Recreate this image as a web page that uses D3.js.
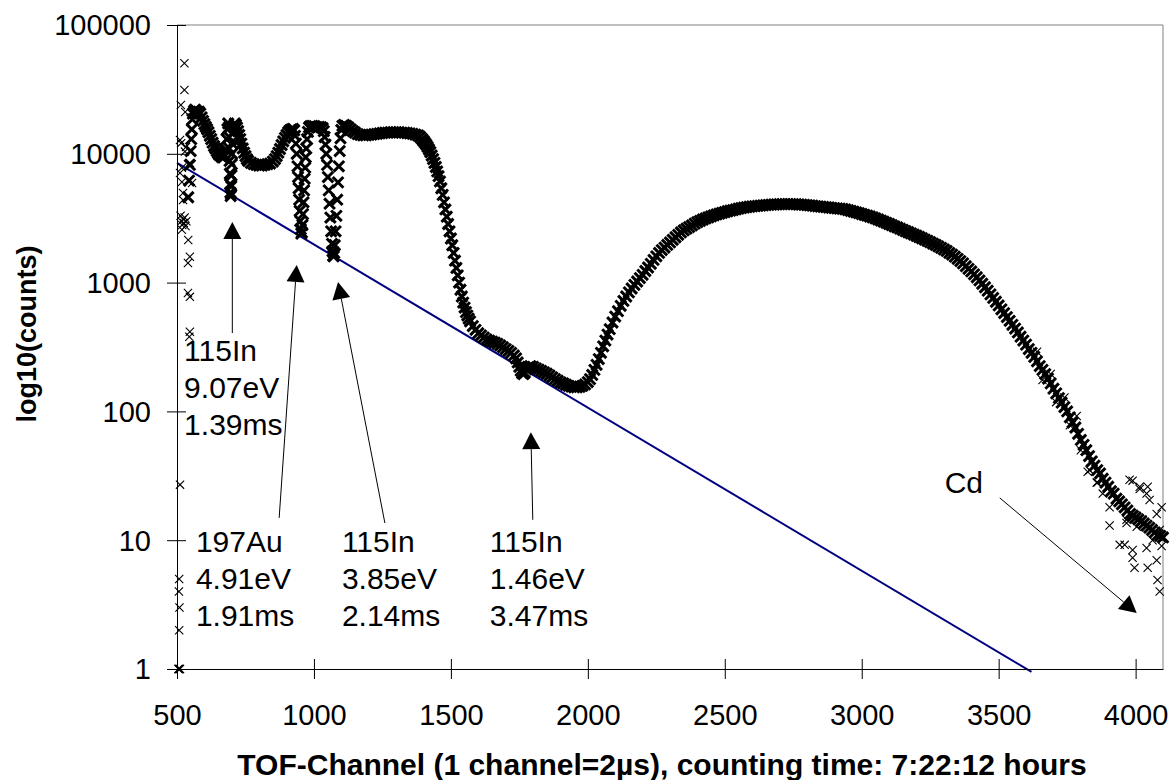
<!DOCTYPE html>
<html>
<head>
<meta charset="utf-8">
<script src="https://cdn.jsdelivr.net/npm/d3@7"></script>
<style>
  body { margin: 0; background: #fff; }
  text { font-family: "Liberation Sans", Arial, sans-serif; }
</style>
</head>
<body>
<svg id="chart" width="1171" height="780"></svg>
<script>
// tick labels
const xTicks = [500, 1000, 1500, 2000, 2500, 3000, 3500, 4000];
const yTicks = [1, 10, 100, 1000, 10000, 100000];

// scattered first channels [channel, counts]
const sparsePoints = [
  [505, 1], [507, 1], [509, 1], [511, 1], [508, 2], [509, 3], [507, 4], [508, 5], [511, 27],
  [527, 50400], [527, 31300], [514, 23900], [530, 21100], [511, 12800], [515, 12100], [533, 11300],
  [529, 10400], [547, 8500], [518, 7800], [511, 7100], [518, 6050], [555, 5930], [522, 4960], [522, 4370],
  [513, 3300], [516, 3000], [519, 2800], [522, 3100], [525, 2900], [528, 3200], [531, 2750], [534, 3000],
  [518, 2570], [541, 2140], [547, 1590], [540, 1420], [540, 830], [547, 775], [547, 415], [545, 380]
];

// main TOF spectrum [channel, counts]
const spectrum = [
  [541,4600],[544,6200],[547,8200],[550,10500],[552,13000],[554,15500],[556,18500],[558,20500],
  [562,21500],[566,22000],[570,21500],[575,21000],[580,21200],[585,20500],[590,19200],[595,18000],
  [600,17000],[605,16200],[610,15500],[615,14700],[620,13800],[625,13000],[630,12200],[635,11500],
  [640,11000],[645,10500],[650,10100],[655,9800],[660,9600],[665,9400],[670,9400],[675,9700],
  [678,10800],[681,13000],[684,15500],[687,17200],[689,16000],[690,13500],[691,11000],[692,8800],
  [693,7000],[694,5800],[695,5000],[696,4700],[697,4900],[698,5600],[699,6800],[700,8300],
  [701,10000],[702,12000],[704,14500],[707,16500],[711,17200],[715,16800],[719,16000],[723,15000],
  [727,14000],[731,13000],[735,12000],[740,11000],[745,10200],[750,9600],[755,9100],[760,8800],
  [770,8500],[780,8300],[790,8200],[800,8100],[810,8100],[820,8200],[830,8300],[840,8400],
  [850,8700],[858,9100],[864,9600],[870,10200],[876,10900],[882,11700],[888,12500],[894,13300],
  [900,14000],[906,14700],[912,15200],[918,15500],[924,15600],[928,15200],[931,13800],[934,12000],
  [937,10000],[940,8000],[942,6600],[944,5400],[946,4400],[948,3600],[950,3000],[952,2600],
  [954,2400],[956,2450],[958,2800],[960,3400],[962,4200],[964,5200],[966,6400],[968,7800],
  [970,9400],[972,11000],[975,13000],[978,14800],[982,16000],[987,16400],[994,16500],[1002,16400],
  [1010,16100],[1018,16200],[1026,16100],[1032,15800],[1036,15000],[1039,13500],[1042,11800],[1045,10000],
  [1048,8200],[1051,6600],[1054,5200],[1057,4100],[1060,3200],[1063,2500],[1066,2000],[1068,1750],
  [1070,1620],[1072,1600],[1074,1700],[1076,1950],[1079,2500],[1082,3300],[1085,4400],[1088,6000],
  [1091,8000],[1094,10500],[1097,13200],[1100,15300],[1104,16500],[1110,16800],[1118,16500],[1126,16000],
  [1134,15500],[1142,15000],[1150,14600],[1160,14200],[1170,14000],[1180,13900],[1190,13900],[1200,14000],
  [1210,14100],[1220,14200],[1230,14300],[1240,14400],[1250,14500],[1260,14600],[1270,14600],[1280,14700],
  [1290,14700],[1300,14700],[1310,14700],[1320,14600],[1330,14600],[1340,14500],[1350,14400],[1360,14300],
  [1370,14100],[1380,13900],[1388,13500],[1395,13000],[1400,12600],[1405,12200],[1410,11800],[1415,11300],
  [1420,10800],[1425,10300],[1430,9700],[1435,9100],[1440,8500],[1445,7900],[1450,7300],[1455,6700],
  [1460,6100],[1465,5400],[1470,4800],[1475,4200],[1480,3700],[1485,3250],[1490,2850],[1495,2500],
  [1500,2200],[1505,1950],[1510,1700],[1515,1480],[1520,1300],[1525,1140],[1530,1000],[1535,880],
  [1540,780],[1545,700],[1550,640],[1555,590],[1560,555],[1565,525],[1570,500],[1580,460],
  [1590,430],[1600,405],[1610,390],[1620,375],[1630,362],[1640,355],[1650,348],[1660,342],
  [1670,335],[1680,325],[1690,315],[1700,305],[1710,295],[1720,285],[1730,272],[1738,258],
  [1744,240],[1750,222],[1755,207],[1760,198],[1765,195],[1770,200],[1776,212],[1782,220],
  [1790,225],[1800,222],[1810,216],[1820,211],[1830,206],[1840,201],[1850,196],[1860,190],
  [1870,184],[1880,178],[1890,173],[1900,168],[1910,165],[1920,161],[1930,158],[1940,156],
  [1950,154],[1960,154],[1970,155],[1980,158],[1990,162],[2000,169],[2008,178],[2016,192],
  [2024,210],[2032,230],[2040,255],[2048,285],[2056,320],[2064,355],[2072,395],[2080,435],
  [2090,490],[2100,545],[2110,600],[2120,660],[2130,720],[2140,780],[2150,840],[2160,900],
  [2170,960],[2180,1020],[2190,1085],[2200,1150],[2210,1230],[2220,1310],[2230,1400],[2240,1500],
  [2250,1600],[2260,1700],[2270,1790],[2280,1870],[2290,1960],[2300,2050],[2310,2150],[2320,2250],
  [2330,2350],[2340,2450],[2350,2540],[2360,2620],[2370,2700],[2380,2780],[2390,2870],[2400,2950],
  [2410,3020],[2420,3090],[2430,3150],[2440,3210],[2450,3270],[2460,3330],[2470,3380],[2480,3430],
  [2490,3480],[2500,3530],[2510,3580],[2520,3620],[2530,3660],[2540,3700],[2550,3750],[2560,3790],
  [2570,3820],[2580,3850],[2590,3880],[2600,3900],[2610,3920],[2620,3940],[2630,3960],[2640,3980],
  [2650,4000],[2660,4020],[2670,4030],[2680,4040],[2690,4050],[2700,4060],[2710,4070],[2720,4070],
  [2730,4070],[2740,4070],[2750,4060],[2760,4060],[2770,4040],[2780,4030],[2790,4020],[2800,4000],
  [2810,3980],[2820,3960],[2830,3930],[2840,3910],[2850,3890],[2860,3870],[2870,3850],[2880,3830],
  [2890,3810],[2900,3790],[2910,3770],[2920,3750],[2930,3730],[2940,3700],[2950,3650],[2960,3600],
  [2970,3560],[2980,3510],[2990,3460],[3000,3410],[3010,3360],[3020,3310],[3030,3260],[3040,3210],
  [3050,3150],[3060,3090],[3070,3030],[3080,2970],[3090,2910],[3100,2850],[3110,2790],[3120,2730],
  [3130,2680],[3140,2620],[3150,2570],[3160,2510],[3170,2460],[3180,2410],[3190,2360],[3200,2310],
  [3210,2260],[3220,2210],[3230,2160],[3240,2110],[3250,2060],[3260,2010],[3270,1960],[3280,1910],
  [3290,1860],[3300,1810],[3310,1760],[3320,1700],[3330,1650],[3340,1590],[3350,1530],[3360,1470],
  [3370,1410],[3380,1340],[3390,1280],[3400,1220],[3410,1160],[3420,1100],[3430,1040],[3440,980],
  [3450,920],[3460,865],[3470,810],[3480,760],[3490,710],[3500,665],[3510,620],[3520,580],
  [3530,540],[3540,505],[3550,470],[3560,440],[3570,410],[3580,380],[3590,355],[3600,330],
  [3610,305],[3620,285],[3630,265],[3640,245],[3650,225],[3660,210],[3670,195],[3680,180],
  [3690,165],[3700,150],[3710,138],[3720,127],[3730,117],[3740,108],[3750,100],[3760,90],
  [3770,82],[3780,75],[3790,67],[3800,60],[3810,55],[3820,50],[3830,45],[3840,41],
  [3850,38],[3860,35],[3870,33],[3880,30],[3890,28],[3900,26],[3910,24],[3920,23],
  [3930,21],[3940,20],[3950,19],[3960,18],[3970,17],[3980,16],[3990,15.5],[4000,15],
  [4010,14.5],[4020,14],[4030,13.5],[4040,13],[4050,12.5],[4060,12],[4070,11.5],[4080,11],
  [4090,10.8],[4100,10.5]
];

// spread of the noisy tail [channel, counts]
const tailScatter = [
  [3640,290],[3660,175],[3690,195],[3710,118],[3740,128],[3760,78],[3785,92],[3800,50],
  [3825,34],[3832,35],[3858,28],[3861,28],[3880,23],[3905,18],[3905,13],[3942,20.5],[3942,9.2],
  [3960,9.2],[3967,14.4],[3967,13.6],[3978,29.5],[3989,8.4],[3989,29],[3996,6.1],[3989,7.3],
  [4004,12.7],[4015,25],[4015,26],[4026,14.4],[4040,23],[4040,8.7],[4044,26],[4044,6.1],
  [4051,20.5],[4062,10],[4077,16],[4077,7],[4080,4.9],[4088,4],[4088,12],[4095,9],[4095,18]
];

// exponential trend line end points [channel, counts]
const fitLine = [[500, 8500], [3620, 0.95]];

// resonance annotations: arrow tip, arrow tail and label anchor [channel, counts]
const annotations = [
  { lines: ["115In", "9.07eV", "1.39ms"], tip: [702, 2955], tail: [702, 406], label: [526, 246] },
  { lines: ["197Au", "4.91eV", "1.91ms"], tip: [937, 1370], tail: [873, 14.9], label: [569, 8.14] },
  { lines: ["115In", "3.85eV", "2.14ms"], tip: [1088, 1011], tail: [1259, 13.6], label: [1102, 8.14] },
  { lines: ["115In", "1.46eV", "3.47ms"], tip: [1792, 69], tail: [1799, 14.4], label: [1642, 8.14] },
  { lines: ["Cd"], tip: [4004, 2.72], tail: [3504, 21.3], label: [3303, 23.3] }
];

const width = 1171, height = 780;
const margin = { top: 25, right: 8, bottom: 111, left: 177 };
const svg = d3.select("#chart");

const x = d3.scaleLinear().domain([500, 4100]).range([margin.left, width - margin.right]);
const y = d3.scaleLog().domain([1, 100000]).range([height - margin.bottom, margin.top]);

// plot frame (top and right side)
svg.append("path")
    .attr("d", `M${x(500)},${y(100000)}H${x(4100)}V${y(1)}`)
    .attr("fill", "none")
    .attr("stroke", "#808080");

// trend line
svg.append("path")
    .datum(fitLine)
    .attr("d", d3.line().x(d => x(d[0])).y(d => y(d[1])))
    .attr("fill", "none")
    .attr("stroke", "#000080")
    .attr("stroke-width", 2);

// markers: the dense spectrum overlaps into a solid band
function drawMarkers(data, size, strokeWidth) {
    svg.append("g")
        .selectAll("path")
        .data(data)
        .join("path")
        .attr("transform", d => `translate(${x(d[0])},${y(d[1])})`)
        .attr("d", d3.symbol().type(d3.symbolTimes).size(size)())
        .attr("fill", "none")
        .attr("stroke", "#000")
        .attr("stroke-width", strokeWidth);
}
drawMarkers(sparsePoints, 46, 1.1);
drawMarkers(tailScatter, 46, 1.1);
drawMarkers(spectrum, 76, 3);

// axes
const xAxis = svg.append("g")
    .attr("transform", `translate(0,${y(1)})`)
    .call(d3.axisBottom(x).tickValues(xTicks).tickFormat(d3.format("d")).tickSize(10).tickSizeOuter(0));
xAxis.selectAll(".tick line").attr("y1", -10).attr("y2", 10);
xAxis.selectAll(".tick text").attr("y", 56).attr("dy", null);

const yAxis = svg.append("g")
    .attr("transform", `translate(${x(500)},0)`)
    .call(d3.axisLeft(y).tickValues(yTicks).tickFormat(d3.format("d")).tickSize(10).tickSizeOuter(0));
yAxis.selectAll(".tick line").attr("x1", 9).attr("x2", -10);
yAxis.selectAll(".tick text").attr("x", -26).attr("dy", "0.34em");

[xAxis, yAxis].forEach(a => {
    a.attr("font-family", null).attr("font-size", null);
    a.selectAll("text").style("font-size", "29px").attr("fill", "#000");
    a.selectAll("line, .domain").attr("stroke", "#000");
});

// annotations
const headLen = 17, headHalf = 9;
const notes = svg.append("g");
annotations.forEach(a => {
    const tx = x(a.tip[0]), ty = y(a.tip[1]);
    const sx = x(a.tail[0]), sy = y(a.tail[1]);
    const ang = Math.atan2(ty - sy, tx - sx);
    const bx = tx - headLen * Math.cos(ang), by = ty - headLen * Math.sin(ang);
    notes.append("line")
        .attr("x1", sx).attr("y1", sy).attr("x2", bx).attr("y2", by)
        .attr("stroke", "#000").attr("stroke-width", 1);
    notes.append("path")
        .attr("d", `M${tx},${ty}L${bx + headHalf * Math.sin(ang)},${by - headHalf * Math.cos(ang)}L${bx - headHalf * Math.sin(ang)},${by + headHalf * Math.cos(ang)}Z`)
        .attr("fill", "#000");
    const t = notes.append("text")
        .attr("x", x(a.label[0])).attr("y", y(a.label[1]))
        .style("font-size", "30px");
    a.lines.forEach((line, i) => {
        t.append("tspan").attr("x", x(a.label[0])).attr("dy", i === 0 ? 0 : 37).text(line);
    });
});

// axis titles
svg.append("text")
    .attr("x", 662)
    .attr("y", 775)
    .attr("text-anchor", "middle")
    .style("font-size", "30px")
    .style("font-weight", "bold")
    .text("TOF-Channel (1 channel=2µs), counting time: 7:22:12 hours");

svg.append("text")
    .attr("transform", "translate(36,334) rotate(-90)")
    .attr("text-anchor", "middle")
    .style("font-size", "27px")
    .style("font-weight", "bold")
    .text("log10(counts)");
</script>
</body>
</html>
